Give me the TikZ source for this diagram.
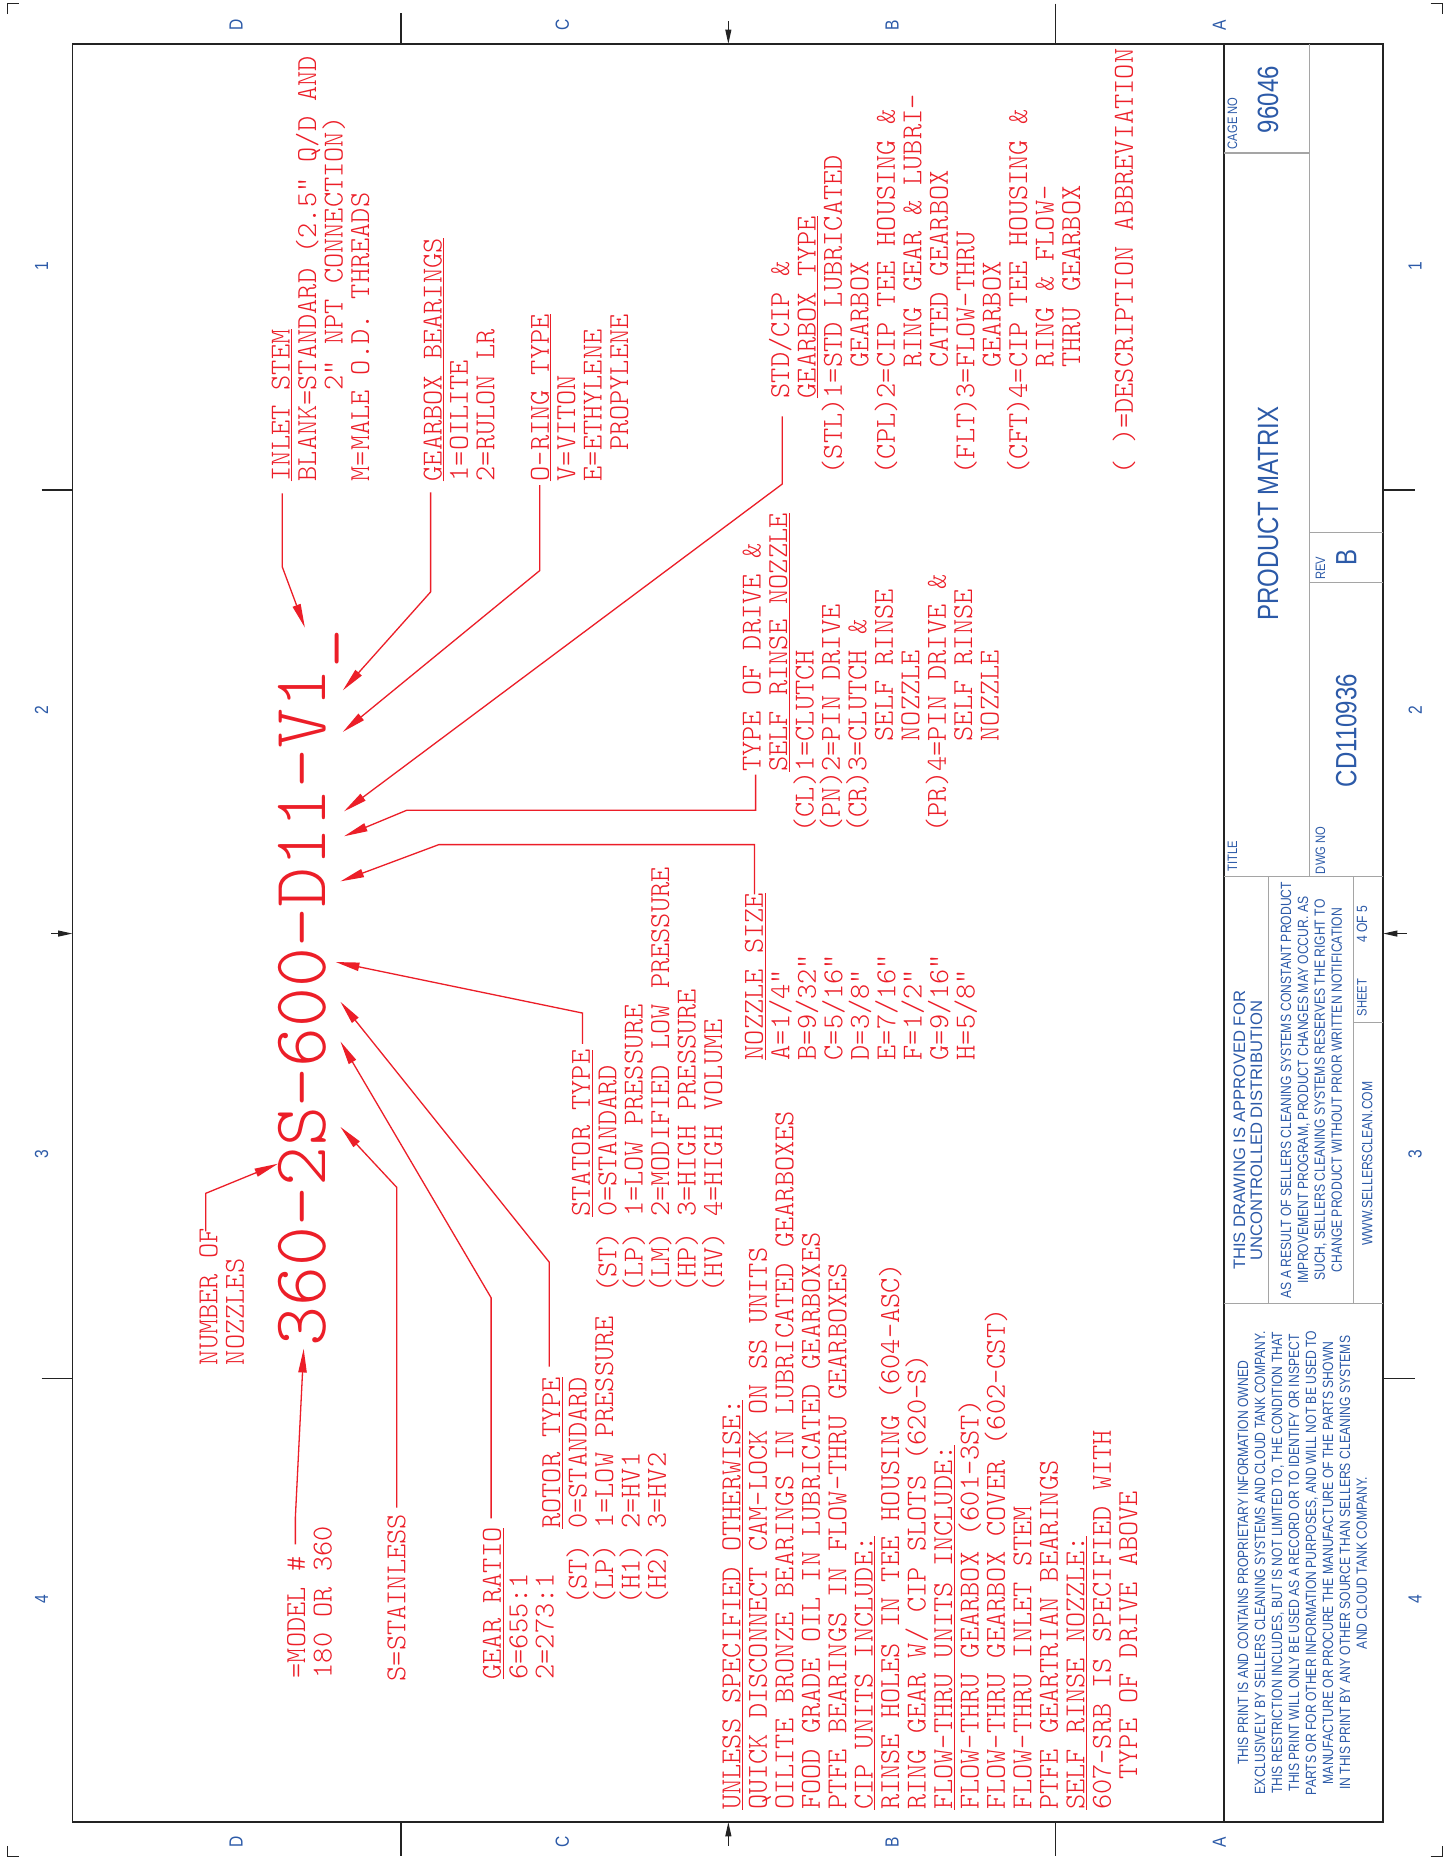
\documentclass[tikz,border=0pt]{standalone}
\usepackage{fontspec}
\usetikzlibrary{arrows.meta}

\newfontfamily\cadfont{lmmonolt10-regular.otf}
\newfontfamily\tbfont{Liberation Sans}[FakeStretch=0.82]
\newfontfamily\tbwidefont{Liberation Sans}

\definecolor{cadred}{RGB}{236,30,40}
\definecolor{tbblue}{RGB}{44,90,168}
\definecolor{tbgray}{RGB}{165,165,165}
\definecolor{inkgray}{RGB}{35,35,35}

\newlength{\cadpitch}
\newcommand{\cadstrut}{\rule{0pt}{19pt}}
\newcommand{\cadind}[1]{\setlength{\cadpitch}{0.525em}\hspace*{#1\cadpitch}}
\lineskiplimit=-100pt

\tikzset{
	cadpicture/.style = {
		x = 1pt,
		y = -1pt,
		leader/.style = {
			draw = cadred,
			line width = 1.1pt,
			-{Triangle[length=20pt, width=7pt]}
		}
	},
	redblock/.style = {
		rotate = 90,
		anchor = north west,
		inner sep = 0pt,
		align = left,
		text = cadred,
		font = \cadfont\fontsize{24.4}{22.3}\selectfont
	},
	bigcode/.style = {
		rotate = 90,
		anchor = base west,
		inner sep = 0pt,
		text = cadred,
		font = \cadfont\fontsize{64}{64}\selectfont
	},
	tbtext/.style = {
		rotate = 90,
		inner sep = 0pt,
		align = center,
		text = tbblue,
		font = \tbfont\fontsize{12.5}{14.3}\selectfont
	},
	tblabel/.style = {
		rotate = 90,
		anchor = base west,
		inner sep = 0pt,
		text = tbblue,
		font = \tbfont\fontsize{11.5}{12}\selectfont
	},
	tbbig/.style = {
		rotate = 90,
		anchor = base,
		inner sep = 0pt,
		text = tbblue,
		font = \tbfont\fontsize{24.7}{26}\selectfont
	},
	zonelabel/.style = {
		rotate = 90,
		inner sep = 0pt,
		text = tbblue,
		font = \tbfont\fontsize{16}{16}\selectfont
	},
	frameline/.style = {
		draw = inkgray,
		line width = 1.4pt
	},
	tbline/.style = {
		draw = tbgray,
		line width = 0.9pt
	},
	zonetick/.style = {
		draw = inkgray,
		line width = 1pt
	},
	zonearrow/.style = {
		draw = inkgray,
		line width = 1pt,
		-{Triangle[length=12pt, width=5pt]}
	}
}

\begin{document}
\begin{tikzpicture}[cadpicture]
	\useasboundingbox (0,0) rectangle (1225,1568);
	\fill[white] (0,0) rectangle (1225,1568);

	\draw[zonetick] (6,12) -- (6,3) -- (16,3);
	\draw[zonetick] (1206,3) -- (1216,3) -- (1216,12);
	\draw[zonetick] (6,1556) -- (6,1565) -- (16,1565);
	\draw[zonetick] (1206,1565) -- (1216,1565) -- (1216,1556);

	\draw[frameline] (61,37) rectangle (1166,1536);
	\draw[zonetick] (338,11) -- (338,37);
	\draw[zonetick] (890,3) -- (890,37);
	\foreach \xpos in {338, 890} {
		\draw[zonetick] (\xpos,1536) -- (\xpos,1565);
	}
	\foreach \ypos in {413, 1162} {
		\draw[zonetick] (35,\ypos) -- (61,\ypos);
		\draw[zonetick] (1166,\ypos) -- (1193,\ypos);
	}
	\draw[zonearrow] (614,18) -- (614,37);
	\draw[zonearrow] (614,1556) -- (614,1536);
	\draw[zonearrow] (43,787) -- (61,787);
	\draw[zonearrow] (1186,787) -- (1166,787);

	\foreach \zone/\xpos in {D/199, C/474, B/752, A/1028} {
		\node[zonelabel] (top \zone) at (\xpos,21) {\zone};
		\node[zonelabel] (bottom \zone) at (\xpos,1553) {\zone};
	}
	\foreach \zone/\ypos in {1/224, 2/599, 3/973, 4/1348} {
		\node[zonelabel] (left \zone) at (35,\ypos) {\zone};
		\node[zonelabel] (right \zone) at (1193,\ypos) {\zone};
	}

	\draw[frameline] (1032,37) -- (1032,1536);
	\draw[tbline] (1104,37) -- (1104,739);
	\draw[tbline] (1032,129) -- (1104,129);
	\draw[tbline] (1104,449) -- (1166,449);
	\draw[tbline] (1104,491) -- (1166,491);
	\draw[tbline] (1032,739) -- (1166,739);
	\draw[tbline] (1069,739) -- (1069,1099);
	\draw[tbline] (1141,739) -- (1141,1099);
	\draw[tbline] (1141,862) -- (1166,862);
	\draw[tbline] (1032,1099) -- (1166,1099);

	\node[tblabel] (cage label) at (1043,126) {CAGE NO};
	\node[tbbig] (cage) at (1077.5,84) {96046};
	\node[tblabel] (title label) at (1043,735) {TITLE};
	\node[tbbig] (title) at (1077.5,433) {PRODUCT MATRIX};
	\node[tblabel] (rev label) at (1117,489) {REV};
	\node[tbbig] (rev) at (1143.5,470) {B};
	\node[tblabel] (dwg label) at (1117,737) {DWG NO};
	\node[tbbig] (dwg) at (1143.5,616) {CD110936};
	\node[tbtext, font=\tbwidefont\fontsize{14}{14.3}\selectfont] (approval) at (1052,953) {THIS DRAWING IS APPROVED FOR\\UNCONTROLLED DISTRIBUTION};
	\node[tbtext] (notice) at (1105.5,919) {AS A RESULT OF SELLERS CLEANING SYSTEMS CONSTANT PRODUCT\\IMPROVEMENT PROGRAM, PRODUCT CHANGES MAY OCCUR. AS\\SUCH, SELLERS CLEANING SYSTEMS RESERVES THE RIGHT TO\\CHANGE PRODUCT WITHOUT PRIOR WRITTEN NOTIFICATION};
	\node[tblabel] (sheet label) at (1152,857) {SHEET};
	\node[tblabel, font=\tbfont\fontsize{12.5}{14}\selectfont] (sheet) at (1152.5,795) {4 OF 5};
	\node[tbtext, anchor=base] (web) at (1157,981) {WWW.SELLERSCLEAN.COM};
	\node[tbtext] (rights) at (1098,1317.5) {THIS PRINT IS AND CONTAINS PROPRIETARY INFORMATION OWNED\\EXCLUSIVELY BY SELLERS CLEANING SYSTEMS AND CLOUD TANK COMPANY.\\THIS RESTRICTION INCLUDES, BUT IS NOT LIMITED TO, THE CONDITION THAT\\THIS PRINT WILL ONLY BE USED AS A RECORD OR TO IDENTIFY OR INSPECT\\PARTS OR FOR OTHER INFORMATION PURPOSES, AND WILL NOT BE USED TO\\MANUFACTURE OR PROCURE THE MANUFACTURE OF THE PARTS SHOWN\\IN THIS PRINT BY ANY OTHER SOURCE THAN SELLERS CLEANING SYSTEMS\\AND CLOUD TANK COMPANY.};

	\node[bigcode] (code) at (274,1135) {360-2S-600-D11-V1\_};

	\node[redblock] (inlet) at (225,406) {\cadstrut\underline{INLET STEM}\\BLANK=STANDARD (2.5" Q/D AND\\\cadind{6}2" NPT CONNECTION)\\M=MALE O.D. THREADS};
	\node[redblock] (gbbear) at (353,406) {\cadstrut\underline{GEARBOX BEARINGS}\\1=OILITE\\2=RULON LR};
	\node[redblock] (oring) at (443.4,406) {\cadstrut\underline{O-RING TYPE}\\V=VITON\\E=ETHYLENE\\\cadind{2}PROPYLENE};
	\node[redblock] (gbtype) at (646,400) {\cadstrut\cadind{5}STD/CIP \&\\\cadind{5}\underline{GEARBOX TYPE}\\(STL)1=STD LUBRICATED\\\cadind{7}GEARBOX\\(CPL)2=CIP TEE HOUSING \&\\\cadind{7}RING GEAR \& LUBRI-\\\cadind{7}CATED GEARBOX\\(FLT)3=FLOW-THRU\\\cadind{7}GEARBOX\\(CFT)4=CIP TEE HOUSING \&\\\cadind{7}RING \& FLOW-\\\cadind{7}THRU GEARBOX\\\mbox{}\\( )=DESCRIPTION ABBREVIATION};
	\node[redblock] (drive) at (622,702) {\cadstrut\cadind{4}TYPE OF DRIVE \&\\\cadind{4}\underline{SELF RINSE NOZZLE}\\(CL)1=CLUTCH\\(PN)2=PIN DRIVE\\(CR)3=CLUTCH \&\\\cadind{6}SELF RINSE\\\cadind{6}NOZZLE\\(PR)4=PIN DRIVE \&\\\cadind{6}SELF RINSE\\\cadind{6}NOZZLE};
	\node[redblock] (nozzle) at (624,894) {\cadstrut\underline{NOZZLE SIZE}\\A=1/4"\\B=9/32"\\C=5/16"\\D=3/8"\\E=7/16"\\F=1/2"\\G=9/16"\\H=5/8"};
	\node[redblock] (stator) at (478,1090) {\cadstrut\cadind{5}\underline{STATOR TYPE}\\(ST) 0=STANDARD\\(LP) 1=LOW PRESSURE\\(LM) 2=MODIFIED LOW PRESSURE\\(HP) 3=HIGH PRESSURE\\(HV) 4=HIGH VOLUME};
	\node[redblock] (rotor) at (453,1353) {\cadstrut\cadind{5}\underline{ROTOR TYPE}\\(ST) 0=STANDARD\\(LP) 1=LOW PRESSURE\\(H1) 2=HV1\\(H2) 3=HV2};
	\node[redblock] (gear) at (403,1416) {\cadstrut\underline{GEAR RATIO}\\6=655:1\\2=273:1};
	\node[redblock] (stainless) at (322.5,1417.5) {\cadstrut S=STAINLESS};
	\node[redblock] (model) at (238,1415) {\cadstrut=MODEL \#\\180 OR 360};
	\node[redblock] (count) at (164,1151) {\cadstrut NUMBER OF\\NOZZLES};
	\node[redblock] (notes) at (605,1526) {\cadstrut\underline{UNLESS SPECIFIED OTHERWISE:}\\QUICK DISCONNECT CAM-LOCK ON SS UNITS\\OILITE BRONZE BEARINGS IN LUBRICATED GEARBOXES\\FOOD GRADE OIL IN LUBRICATED GEARBOXES\\PTFE BEARINGS IN FLOW-THRU GEARBOXES\\\underline{CIP UNITS INCLUDE:}\\RINSE HOLES IN TEE HOUSING (604-ASC)\\RING GEAR W/ CIP SLOTS (620-S)\\\underline{FLOW-THRU UNITS INCLUDE:}\\FLOW-THRU GEARBOX (601-3ST)\\FLOW-THRU GEARBOX COVER (602-CST)\\FLOW-THRU INLET STEM\\PTFE GEARTRIAN BEARINGS\\\underline{SELF RINSE NOZZLE:}\\607-SRB IS SPECIFIED WITH\\\cadind{2}TYPE OF DRIVE ABOVE};

	\coordinate (inlet tip) at (257,529);
	\coordinate (gbbear tip) at (289,582);
	\coordinate (oring tip) at (289,617);
	\coordinate (gbtype tip) at (290,684);
	\coordinate (drive tip) at (290,705);
	\coordinate (nozzle tip) at (287,743);
	\coordinate (stator tip) at (283,811);
	\coordinate (rotor tip) at (287,844.5);
	\coordinate (gear tip) at (287,878);
	\coordinate (stainless tip) at (287,950);
	\coordinate (model tip) at (256,1137);
	\coordinate (count tip) at (234.4,981);

	\draw[leader] ([shift={(13pt,-10pt)}]inlet.north west) -- ++(0,62) -- (inlet tip);
	\draw[leader] ([shift={(10pt,-9pt)}]gbbear.north west) -- ++(0,84) -- (gbbear tip);
	\draw[leader] ([shift={(11.6pt,-3pt)}]oring.north west) -- ++(0,72) -- (oring tip);
	\draw[leader] ([shift={(13.5pt,49pt)}]gbtype.north west) -- ++(0,57) -- (gbtype tip);
	\draw[leader] ([shift={(15pt,49pt)}]drive.north west) -- ++(0,30) -- ++(-294,0) -- (drive tip);
	\draw[leader] ([shift={(12pt,140pt)}]nozzle.north west) -- ++(0,-42) -- ++(-266,0) -- (nozzle tip);
	\draw[leader] ([shift={(13pt,210pt)}]stator.north west) -- ++(0,-26) -- (stator tip);
	\draw[leader] ([shift={(10pt,201pt)}]rotor.north west) -- ++(0,-88) -- (rotor tip);
	\draw[leader] ([shift={(11pt,136pt)}]gear.north west) -- ++(0,-186) -- (gear tip);
	\draw[leader] ([shift={(12pt,146.5pt)}]stainless.north west) -- ++(0,-270) -- (stainless tip);
	\draw[leader] ([shift={(11pt,113pt)}]model.north west) -- ++(0,-23) -- (model tip);
	\draw[leader] ([shift={(9.4pt,113pt)}]count.north west) -- ++(0,-32) -- (count tip);
\end{tikzpicture}
\end{document}
